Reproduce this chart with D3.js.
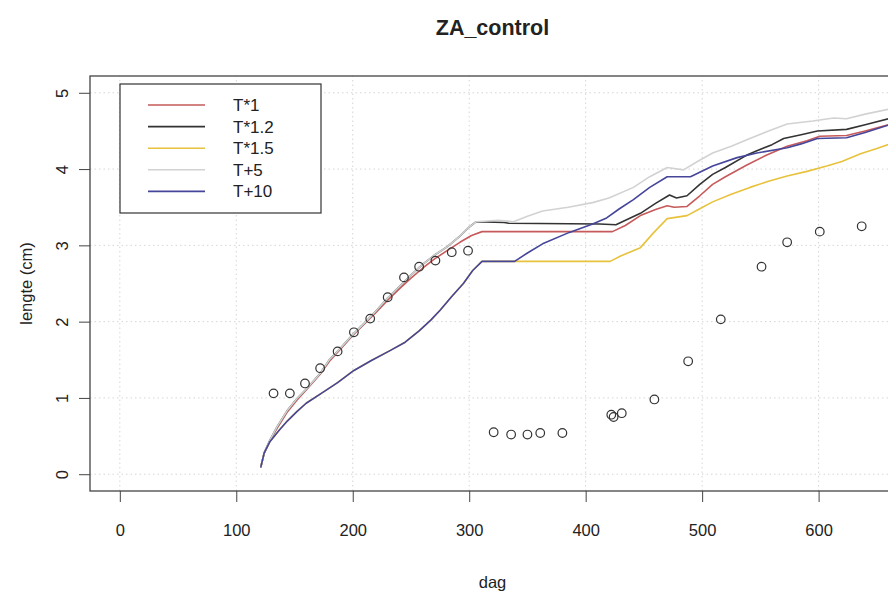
<!DOCTYPE html>
<html><head><meta charset="utf-8">
<script src="https://cdn.jsdelivr.net/npm/d3@7"></script>
<style>body{margin:0;background:#fff}svg{display:block}text{font-family:"Liberation Sans",Arial,sans-serif;fill:#222}</style>
</head><body>
<script>
const title = "ZA_control";
const xLabel = "dag";
const yLabel = "lengte (cm)";
const xTicks = [0,100,200,300,400,500,600];
const yTicks = [0,1,2,3,4,5];
const xLim = [0,640];
const yLim = [0,5];

const seriesNames = ["T*1","T*1.2","T*1.5","T+5","T+10"];
const seriesColors = ["#c65a5a","#333333","#e8c23c","#d2d2d2","#45459a"];

const sT1 = [[121,0.09],[124,0.28],[129,0.44],[135,0.60],[144,0.82],[152,0.97],[161,1.12],[172,1.31],[180,1.48],[190,1.65],[200,1.82],[210,1.97],[220,2.12],[230,2.28],[240,2.43],[250,2.57],[260,2.70],[270,2.82],[281,2.93],[292,3.04],[302,3.13],[311,3.18],[423,3.18],[434,3.26],[447,3.39],[460,3.47],[470,3.52],[476,3.50],[487,3.51],[498,3.65],[509,3.80],[520,3.90],[538,4.05],[555,4.18],[573,4.30],[590,4.37],[601,4.43],[624,4.44],[640,4.50],[665,4.60]];
const sT12 = [[121,0.09],[124,0.28],[129,0.45],[135,0.62],[144,0.84],[152,0.99],[161,1.13],[172,1.32],[180,1.50],[190,1.66],[200,1.83],[210,1.98],[220,2.14],[230,2.31],[240,2.46],[250,2.61],[260,2.75],[270,2.87],[281,2.98],[292,3.12],[300,3.24],[306,3.31],[330,3.30],[334,3.29],[412,3.28],[426,3.27],[447,3.42],[460,3.55],[472,3.66],[478,3.62],[487,3.65],[498,3.80],[509,3.93],[520,4.02],[538,4.18],[547,4.24],[560,4.32],[570,4.40],[585,4.45],[599,4.50],[624,4.52],[640,4.58],[665,4.68]];
const sT15 = [[121,0.09],[124,0.28],[129,0.43],[137,0.58],[144,0.70],[152,0.82],[160,0.93],[173,1.06],[187,1.20],[201,1.36],[216,1.49],[232,1.62],[245,1.73],[257,1.88],[267,2.02],[275,2.15],[285,2.33],[295,2.50],[303,2.67],[311,2.79],[421,2.79],[430,2.86],[447,2.97],[458,3.16],[470,3.35],[487,3.39],[498,3.48],[509,3.57],[525,3.67],[541,3.76],[557,3.84],[573,3.91],[590,3.97],[607,4.04],[620,4.10],[636,4.20],[650,4.27],[665,4.35]];
const sT5 = [[121,0.09],[124,0.28],[129,0.45],[135,0.62],[144,0.84],[152,0.99],[161,1.13],[172,1.32],[180,1.50],[190,1.66],[200,1.83],[210,1.98],[220,2.14],[230,2.31],[240,2.46],[250,2.61],[260,2.75],[270,2.87],[281,2.98],[292,3.12],[300,3.24],[306,3.31],[325,3.33],[338,3.31],[350,3.38],[363,3.45],[385,3.50],[406,3.56],[420,3.62],[441,3.76],[455,3.90],[470,4.02],[484,3.99],[496,4.10],[509,4.21],[525,4.30],[541,4.40],[557,4.50],[573,4.59],[595,4.63],[613,4.67],[624,4.66],[640,4.72],[665,4.80]];
const sT10 = [[121,0.09],[124,0.28],[129,0.43],[137,0.58],[144,0.70],[152,0.82],[160,0.93],[173,1.06],[187,1.20],[201,1.36],[216,1.49],[232,1.62],[245,1.73],[257,1.88],[267,2.02],[275,2.15],[285,2.33],[295,2.50],[303,2.67],[311,2.79],[339,2.79],[350,2.90],[363,3.02],[386,3.17],[406,3.28],[418,3.36],[429,3.48],[441,3.60],[455,3.76],[470,3.90],[490,3.90],[509,4.04],[530,4.15],[547,4.21],[573,4.28],[585,4.33],[599,4.40],[624,4.41],[640,4.48],[665,4.60]];
const seriesData = [sT1,sT12,sT15,sT5,sT10];

const obsDay = [132,146,159,172,187,201,215,230,244,257,271,285,299,321,336,350,361,380,422,424,431,459,488,516,551,573,601,637];
const obsLen = [1.06,1.06,1.19,1.39,1.61,1.86,2.04,2.32,2.58,2.72,2.80,2.91,2.93,0.55,0.52,0.52,0.54,0.54,0.78,0.75,0.80,0.98,1.48,2.03,2.72,3.04,3.18,3.25];

const W = 888, H = 597;
const svg = d3.select("body").append("svg").attr("width",W).attr("height",H);

const padX = (xLim[1]-xLim[0])*0.04, padY = (yLim[1]-yLim[0])*0.044;
const x = d3.scaleLinear().domain([xLim[0]-padX, xLim[1]+padX]).range([90, 895]);
const y = d3.scaleLinear().domain([yLim[0]-padY, yLim[1]+padY]).range([491, 76]);
const [x0,x1] = x.range(), [y0,y1] = y.range();

// grid
const grid = svg.append("g").attr("stroke","#d6d6d6").attr("stroke-width",1).attr("stroke-dasharray","1.5,3");
grid.selectAll(".gx").data(xTicks).join("line").attr("x1",d=>x(d)).attr("x2",d=>x(d)).attr("y1",y0).attr("y2",y1);
grid.selectAll(".gy").data(yTicks).join("line").attr("y1",d=>y(d)).attr("y2",d=>y(d)).attr("x1",x0).attr("x2",x1);

svg.append("defs").append("clipPath").attr("id","clip").append("rect")
  .attr("x",x0).attr("y",y1).attr("width",x1-x0).attr("height",y0-y1);

const plot = svg.append("g").attr("clip-path","url(#clip)");
const line = d3.line().x(d=>x(d[0])).y(d=>y(d[1]));
seriesData.forEach((s,i)=>{
  plot.append("path").attr("d",line(s)).attr("fill","none")
    .attr("stroke",seriesColors[i]).attr("stroke-width",1.6).attr("stroke-linejoin","round");
});
plot.selectAll("circle").data(obsDay).join("circle")
  .attr("cx",d=>x(d)).attr("cy",(d,i)=>y(obsLen[i])).attr("r",4.3)
  .attr("fill","none").attr("stroke","#333").attr("stroke-width",1.2);

// axes
const xa = svg.append("g").attr("transform",`translate(0,${y0})`)
  .call(d3.axisBottom(x).tickValues(xTicks).tickSize(11).tickPadding(22).tickFormat(d3.format("d")));
const ya = svg.append("g").attr("transform",`translate(${x0},0)`)
  .call(d3.axisLeft(y).tickValues(yTicks).tickSize(11).tickPadding(0).tickFormat(d3.format("d")));
[xa,ya].forEach(a=>{
  a.select(".domain").remove();
  a.selectAll("line").attr("stroke","#444").attr("stroke-width",1);
  a.selectAll("text").attr("font-size",16.5).attr("fill","#222").style("font-family","Liberation Sans, Arial, sans-serif");
});
ya.selectAll(".tick text").attr("x",null).attr("dy",null).attr("text-anchor","middle")
  .attr("transform","translate(-22,0) rotate(-90)").attr("y",0);
// frame
svg.append("rect").attr("x",x0).attr("y",y1).attr("width",x1-x0).attr("height",y0-y1)
  .attr("fill","none").attr("stroke","#444").attr("stroke-width",1.3);

// titles
svg.append("text").attr("x",(x0+x1)/2).attr("y",35).attr("text-anchor","middle")
  .attr("font-size",21.5).attr("font-weight","bold").text(title);
svg.append("text").attr("x",(x0+x1)/2).attr("y",588).attr("text-anchor","middle")
  .attr("font-size",16.5).text(xLabel);
svg.append("text").attr("transform",`translate(32,${(y0+y1)/2}) rotate(-90)`).attr("text-anchor","middle")
  .attr("font-size",16.5).text(yLabel);

// legend
const lg = svg.append("g");
lg.append("rect").attr("x",120).attr("y",84).attr("width",201).attr("height",129)
  .attr("fill","#fff").attr("stroke","#333").attr("stroke-width",1.2);
seriesNames.forEach((n,i)=>{
  const yy = 105 + i*21.6;
  lg.append("line").attr("x1",148).attr("x2",205).attr("y1",yy).attr("y2",yy)
    .attr("stroke",seriesColors[i]).attr("stroke-width",1.6);
  lg.append("text").attr("x",233).attr("y",yy+6).attr("font-size",17).text(n);
});
</script>
</body></html>
